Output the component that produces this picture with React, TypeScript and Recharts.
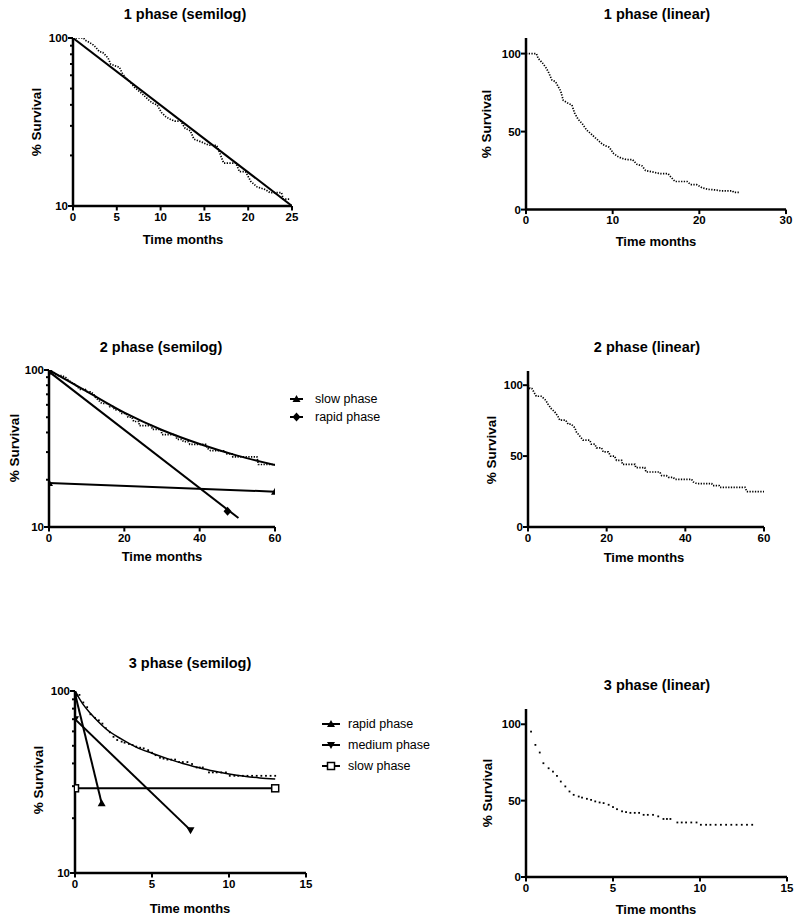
import React from 'react';
import { ComposedChart, Line, XAxis, YAxis } from 'recharts';

const FONT = '"Liberation Sans", Arial, Helvetica, sans-serif';

// ---------------- data ----------------
// 1 phase: Kaplan-Meier survival (months, %)
const km1Time = [0, 1.2, 1.4, 1.9, 2.3, 2.6, 3.0, 3.4, 3.7, 4.0, 4.3, 4.9, 5.3, 5.6, 6.0, 6.5, 7.0, 7.6, 8.2, 8.8, 9.1, 9.6, 10.1, 10.6, 11.0, 11.6, 12.3, 12.8, 13.4, 13.8, 14.7, 15.5, 16.4, 16.7, 17.2, 18.6, 19.0, 19.7, 20.3, 21.0, 22.0, 22.5, 23.8, 24.0, 24.7];
const km1Surv = [100, 100, 97, 94, 91, 88, 83, 82, 79, 76, 70, 68, 67, 62, 58, 55, 51, 48, 45, 42, 41, 40, 36, 34, 33, 32, 32, 29, 28, 25, 24, 23, 23, 21, 18, 18, 16, 16, 14, 13, 12.5, 12, 12, 11, 11];
const fit1Time = [0, 25];
const fit1Surv = [100, 10];

// 2 phase
const km2Time = [0, 0.5, 1.0, 2.1, 3.4, 4.5, 5.1, 5.9, 6.8, 7.6, 8.1, 9.6, 10.2, 11.0, 11.9, 12.3, 13.2, 14.0, 15.7, 16.1, 17.0, 17.4, 18.7, 19.1, 20.4, 21.0, 22.0, 22.5, 23.8, 24.0, 27.2, 27.4, 29.7, 30.0, 33.5, 34.0, 35.2, 35.7, 36.9, 37.4, 41.6, 42.0, 42.9, 46.7, 47.0, 48.6, 48.8, 55.2, 55.6, 60];
const km2Surv = [100, 97.6, 97.6, 92.2, 92.2, 89.4, 86.6, 83.5, 81.2, 78, 75.3, 75.3, 72.5, 72.5, 70, 67, 64, 61.2, 61.2, 58.4, 58.4, 55.8, 55.8, 53, 53, 50, 50, 47, 47, 44.2, 44.2, 41.9, 41.9, 38.8, 38.8, 36.2, 36.2, 35, 35, 33.6, 33.6, 31.8, 30.6, 30.6, 29.2, 29.2, 28, 28, 25, 25];
const fit2Time = [0, 10, 20, 30, 40, 50, 60];
const fit2Surv = [100, 73, 53.5, 41.5, 33.8, 28.5, 24.8];
const slow2Time = [0, 60];
const slow2Surv = [19.1, 16.8];
const rapid2Time = [0, 50.3];
const rapid2Surv = [97.6, 11.4];
const rapid2MarkTime = [0, 47.4];
const rapid2MarkSurv = [97.6, 12.6];

// 3 phase
const km3Time = [0.29, 0.54, 0.79, 1.0, 1.3, 1.55, 1.78, 2.0, 2.26, 2.5, 2.74, 3.03, 3.22, 3.5, 3.74, 3.98, 4.23, 4.46, 4.75, 5.0, 5.23, 5.52, 5.75, 6.0, 6.25, 6.5, 6.76, 7.0, 7.3, 7.6, 7.9, 8.1, 8.3, 8.7, 8.95, 9.2, 9.5, 9.8, 10.05, 10.35, 10.6, 10.9, 11.2, 11.5, 11.8, 12.1, 12.4, 12.7, 13.0];
const km3Surv = [95.2, 86.5, 81.5, 74.5, 71.2, 69, 66.2, 62.5, 59.3, 56, 53.8, 52.7, 52, 51.2, 50.5, 49.5, 48.8, 48.4, 47.3, 45.8, 44.4, 43, 42.5, 42, 42, 42, 40.7, 40.7, 40.7, 39.7, 38, 38, 38, 35.7, 35.7, 35.7, 35.7, 35.7, 34.2, 34.2, 34.2, 34.2, 34.2, 34.2, 34.2, 34.2, 34.2, 34.2, 34.2];
const fit3Time = [0, 0.5, 1.0, 1.5, 2.0, 3.0, 4.0, 5.0, 6.0, 7.0, 8.0, 9.0, 10.0, 11.0, 12.0, 13.0];
const fit3Surv = [100, 85, 75.5, 68, 62, 54.5, 49, 45.5, 42.5, 40, 38, 36.3, 35, 34, 33.3, 32.8];
const rapid3Time = [0, 1.73];
const rapid3Surv = [97, 24.2];
const medium3Time = [0, 7.5];
const medium3Surv = [70, 17.2];
const slow3Time = [0, 13];
const slow3Surv = [29.2, 29.2];

// ticks
const logTicks = [10, 20, 30, 40, 50, 60, 70, 80, 90, 100];
const logMajor = [10, 100];
const linTicks = [0, 50, 100];
const xTicks25 = [0, 5, 10, 15, 20, 25];
const xTicks30 = [0, 10, 20, 30];
const xTicks60 = [0, 20, 40, 60];
const xTicks15 = [0, 5, 10, 15];

const zip = (t: number[], s: number[]) => t.map((v, i) => ({ t: v, s: s[i] }));

// ---------------- marks ----------------
const TriUp = ({ cx, cy }: { cx: number; cy: number }) => (
  <path d={`M${cx},${cy - 4} L${cx + 4},${cy + 3} L${cx - 4},${cy + 3} Z`} fill="#000" />
);
const TriDown = ({ cx, cy }: { cx: number; cy: number }) => (
  <path d={`M${cx},${cy + 4} L${cx + 4},${cy - 3} L${cx - 4},${cy - 3} Z`} fill="#000" />
);
const Diamond = ({ cx, cy }: { cx: number; cy: number }) => (
  <path d={`M${cx},${cy - 4.5} L${cx + 4},${cy} L${cx},${cy + 4.5} L${cx - 4},${cy} Z`} fill="#000" />
);
const OpenSq = ({ cx, cy }: { cx: number; cy: number }) => (
  <rect x={cx - 3.5} y={cy - 3.5} width={7} height={7} fill="#fff" stroke="#000" strokeWidth={1.5} />
);
const Dot = ({ cx, cy }: { cx: number; cy: number }) => (
  <rect x={cx - 0.9} y={cy - 0.9} width={1.8} height={1.8} fill="#000" />
);

const mk = (Comp: any, name: string) => (p: any) =>
  p.cx == null ? <g key={`${name}-${p.index}`} /> : <Comp key={`${name}-${p.index}`} cx={p.cx} cy={p.cy} />;

// ---------------- ticks ----------------
const XTick = (props: any) => {
  const { x, y, payload } = props;
  return (
    <g>
      <line x1={x} x2={x} y1={y} y2={y + 4.5} stroke="#000" strokeWidth={2} />
      <text x={x} y={y + 14.5} textAnchor="middle" fontSize={11.5} fontWeight="bold" fontFamily={FONT} fill="#000">
        {payload.value}
      </text>
    </g>
  );
};

const YTick = (props: any) => {
  const { x, y, payload, major } = props;
  const v = payload.value;
  const isMajor = major.includes(v);
  const len = isMajor ? 5 : 3;
  return (
    <g>
      <line x1={x - len} x2={x} y1={y} y2={y} stroke="#000" strokeWidth={2} />
      {isMajor && (
        <text x={x - 5} y={y + 4.2} textAnchor="end" fontSize={11.5} fontWeight="bold" fontFamily={FONT} fill="#000">
          {v}
        </text>
      )}
    </g>
  );
};

// ---------------- panel ----------------
type Rect = { x0: number; x1: number; y0: number; y1: number };

function Panel(props: {
  rect: Rect;
  xDomain: [number, number];
  xTicks: number[];
  log: boolean;
  children: React.ReactNode;
}) {
  const { rect, xDomain, xTicks, log, children } = props;
  const padL = 60, padT = 12, padR = 24, padB = 30;
  const width = rect.x1 - rect.x0 + padL + padR;
  const height = rect.y1 - rect.y0 + padT + padB;
  return (
    <div style={{ position: 'absolute', left: rect.x0 - padL, top: rect.y0 - padT }}>
      <ComposedChart width={width} height={height} margin={{ top: padT, right: padR, bottom: 0, left: 0 }}>
        <XAxis
          type="number"
          dataKey="t"
          domain={xDomain}
          ticks={xTicks}
          interval={0}
          allowDataOverflow
          height={padB}
          axisLine={{ stroke: '#000', strokeWidth: 2.5 }}
          tickLine={false}
          tickSize={0}
          tickMargin={0}
          tick={<XTick />}
        />
        <YAxis
          type="number"
          scale={log ? 'log' : 'linear'}
          domain={log ? [10, 100] : [0, 110]}
          ticks={log ? logTicks : linTicks}
          interval={0}
          allowDataOverflow
          width={padL}
          axisLine={{ stroke: '#000', strokeWidth: 2.5 }}
          tickLine={false}
          tickSize={0}
          tickMargin={0}
          tick={<YTick major={log ? logMajor : linTicks} />}
        />
        {children}
      </ComposedChart>
    </div>
  );
}

// ---------------- text helpers ----------------
const Title = ({ cx, cy, text }: { cx: number; cy: number; text: string }) => (
  <div
    style={{
      position: 'absolute', left: cx - 150, top: cy - 10, width: 300, height: 20, lineHeight: '20px',
      textAlign: 'center', fontFamily: FONT, fontWeight: 'bold', fontSize: 14.5, color: '#000', whiteSpace: 'nowrap',
    }}
  >
    {text}
  </div>
);
const XLabel = ({ cx, cy }: { cx: number; cy: number }) => (
  <div
    style={{
      position: 'absolute', left: cx - 100, top: cy - 10, width: 200, height: 20, lineHeight: '20px',
      textAlign: 'center', fontFamily: FONT, fontWeight: 'bold', fontSize: 13, color: '#000', whiteSpace: 'nowrap',
    }}
  >
    Time months
  </div>
);
const YLabel = ({ cx, cy }: { cx: number; cy: number }) => (
  <div
    style={{
      position: 'absolute', left: cx - 100, top: cy - 10, width: 200, height: 20, lineHeight: '20px',
      textAlign: 'center', fontFamily: FONT, fontWeight: 'bold', fontSize: 13.5, color: '#000', whiteSpace: 'nowrap',
      transform: 'rotate(-90deg)',
    }}
  >
    % Survival
  </div>
);

const LegendItem = ({ x0, x1, tx, cy, label, Mark }: { x0: number; x1: number; tx: number; cy: number; label: string; Mark: any }) => (
  <>
    <svg style={{ position: 'absolute', left: x0, top: cy - 6 }} width={x1 - x0} height={12}>
      <line x1={0} x2={x1 - x0} y1={6} y2={6} stroke="#000" strokeWidth={2} />
      <Mark cx={(x1 - x0) / 2} cy={6} />
    </svg>
    <div
      style={{
        position: 'absolute', left: tx, top: cy - 9, height: 18, lineHeight: '18px',
        fontFamily: FONT, fontSize: 12.5, color: '#000', whiteSpace: 'nowrap',
      }}
    >
      {label}
    </div>
  </>
);

const dashed = { stroke: '#000', strokeWidth: 1.7, strokeDasharray: '1.3 1.4' };

export default function App() {
  return (
    <div style={{ position: 'absolute', left: 0, top: 0, width: 800, height: 921, background: '#fff', overflow: 'hidden' }}>
      {/* ---------- 1 phase semilog ---------- */}
      <Title cx={185} cy={14} text="1 phase (semilog)" />
      <YLabel cx={37} cy={122} />
      <XLabel cx={183} cy={240} />
      <Panel rect={{ x0: 73, x1: 292, y0: 38, y1: 206 }} xDomain={[0, 25]} xTicks={xTicks25} log>
        <Line data={zip(km1Time, km1Surv)} dataKey="s" {...dashed} dot={false} isAnimationActive={false} />
        <Line data={zip(fit1Time, fit1Surv)} dataKey="s" stroke="#000" strokeWidth={2} dot={false} isAnimationActive={false} />
      </Panel>

      {/* ---------- 1 phase linear ---------- */}
      <Title cx={657} cy={14} text="1 phase (linear)" />
      <YLabel cx={487} cy={124} />
      <XLabel cx={656} cy={242} />
      <Panel rect={{ x0: 526, x1: 786, y0: 38.4, y1: 210 }} xDomain={[0, 30]} xTicks={xTicks30} log={false}>
        <Line data={zip(km1Time, km1Surv)} dataKey="s" {...dashed} dot={false} isAnimationActive={false} />
      </Panel>

      {/* ---------- 2 phase semilog ---------- */}
      <Title cx={161} cy={347} text="2 phase (semilog)" />
      <YLabel cx={15} cy={448} />
      <XLabel cx={162} cy={557} />
      <Panel rect={{ x0: 49, x1: 275, y0: 370, y1: 527 }} xDomain={[0, 60]} xTicks={xTicks60} log>
        <Line data={zip(km2Time, km2Surv)} dataKey="s" {...dashed} dot={false} isAnimationActive={false} />
        <Line data={zip(fit2Time, fit2Surv)} dataKey="s" type="monotone" stroke="#000" strokeWidth={2} dot={false} isAnimationActive={false} />
        <Line data={zip(slow2Time, slow2Surv)} dataKey="s" stroke="#000" strokeWidth={2} dot={mk(TriUp, 'slow2')} isAnimationActive={false} />
        <Line data={zip(rapid2Time, rapid2Surv)} dataKey="s" stroke="#000" strokeWidth={2} dot={false} isAnimationActive={false} />
        <Line data={zip(rapid2MarkTime, rapid2MarkSurv)} dataKey="s" stroke="none" dot={mk(Diamond, 'rapid2')} isAnimationActive={false} />
      </Panel>
      <LegendItem x0={290} x1={303} tx={315} cy={399} label="slow phase" Mark={TriUp} />
      <LegendItem x0={290} x1={303} tx={315} cy={417} label="rapid phase" Mark={Diamond} />

      {/* ---------- 2 phase linear ---------- */}
      <Title cx={647} cy={347} text="2 phase (linear)" />
      <YLabel cx={492} cy={450} />
      <XLabel cx={644} cy={558} />
      <Panel rect={{ x0: 528, x1: 764, y0: 371, y1: 527 }} xDomain={[0, 60]} xTicks={xTicks60} log={false}>
        <Line data={zip(km2Time, km2Surv)} dataKey="s" {...dashed} dot={false} isAnimationActive={false} />
      </Panel>

      {/* ---------- 3 phase semilog ---------- */}
      <Title cx={190} cy={663} text="3 phase (semilog)" />
      <YLabel cx={39} cy={780} />
      <XLabel cx={190} cy={909} />
      <Panel rect={{ x0: 75, x1: 306, y0: 691, y1: 873 }} xDomain={[0, 15]} xTicks={xTicks15} log>
        <Line data={zip(km3Time, km3Surv)} dataKey="s" stroke="none" dot={mk(Dot, 'km3s')} isAnimationActive={false} />
        <Line data={zip(fit3Time, fit3Surv)} dataKey="s" type="monotone" stroke="#000" strokeWidth={1.5} dot={false} isAnimationActive={false} />
        <Line data={zip(rapid3Time, rapid3Surv)} dataKey="s" stroke="#000" strokeWidth={2} dot={mk(TriUp, 'rapid3')} isAnimationActive={false} />
        <Line data={zip(medium3Time, medium3Surv)} dataKey="s" stroke="#000" strokeWidth={2} dot={mk(TriDown, 'med3')} isAnimationActive={false} />
        <Line data={zip(slow3Time, slow3Surv)} dataKey="s" stroke="#000" strokeWidth={2} dot={mk(OpenSq, 'slow3')} isAnimationActive={false} />
      </Panel>
      <LegendItem x0={322} x1={340} tx={348} cy={724} label="rapid phase" Mark={TriUp} />
      <LegendItem x0={322} x1={340} tx={348} cy={745} label="medium phase" Mark={TriDown} />
      <LegendItem x0={322} x1={340} tx={348} cy={766} label="slow phase" Mark={OpenSq} />

      {/* ---------- 3 phase linear ---------- */}
      <Title cx={657} cy={685} text="3 phase (linear)" />
      <YLabel cx={488} cy={793} />
      <XLabel cx={656} cy={910} />
      <Panel rect={{ x0: 526, x1: 787, y0: 709, y1: 877 }} xDomain={[0, 15]} xTicks={xTicks15} log={false}>
        <Line data={zip(km3Time, km3Surv)} dataKey="s" stroke="none" dot={mk(Dot, 'km3l')} isAnimationActive={false} />
      </Panel>
    </div>
  );
}
